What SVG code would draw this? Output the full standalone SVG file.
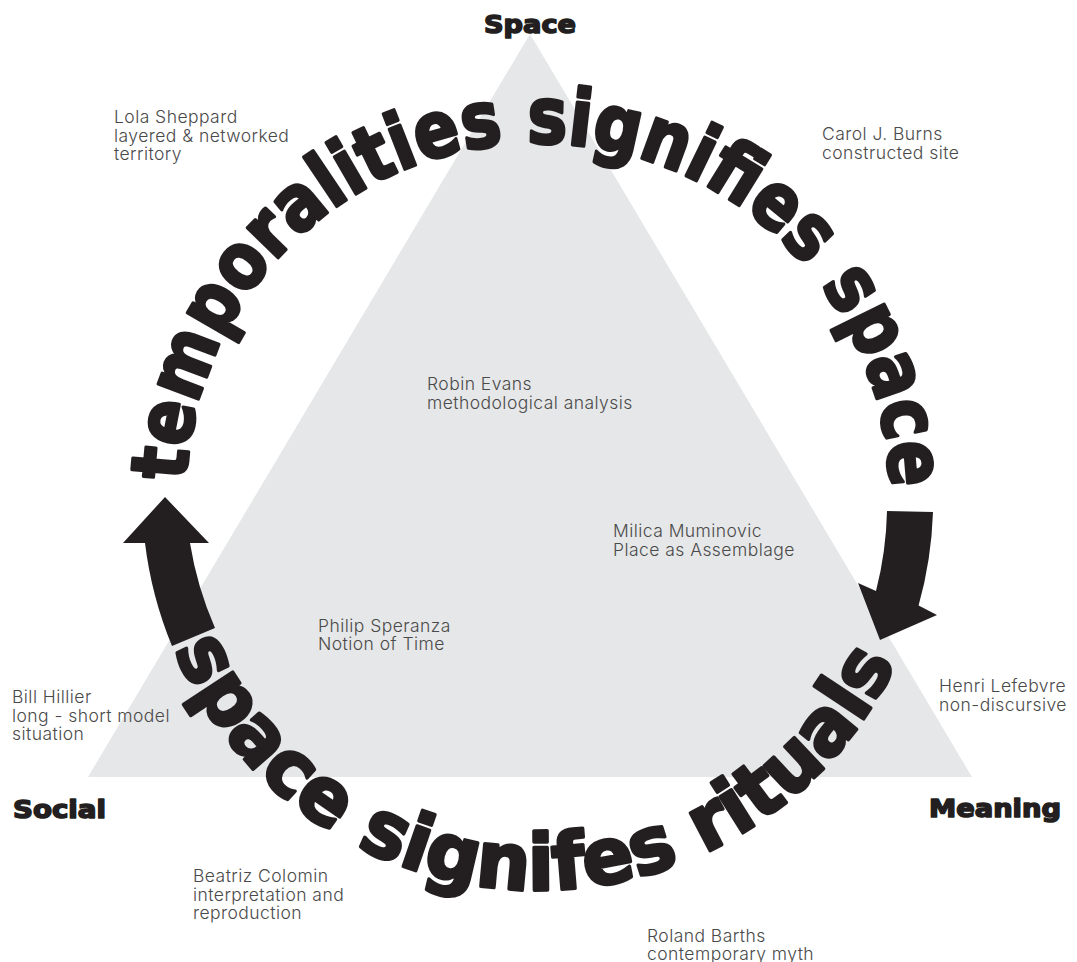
<svg xmlns="http://www.w3.org/2000/svg" xmlns:xlink="http://www.w3.org/1999/xlink" width="1077" height="962" viewBox="0 0 1077 962">
  <style>
    .lbl { font-family: Inter, "Open Sans", "Liberation Sans", sans-serif; font-weight: 300; font-size: 17.5px; letter-spacing: 0.45px; fill: #4a4a4a; }
    .corner { font-family: "DejaVu Sans", "Liberation Sans", sans-serif; font-weight: bold; font-size: 25px; fill: #231f20; stroke: #231f20; stroke-width: 1.6; stroke-linejoin: round; }
    .ring { font-family: "DejaVu Sans", "Liberation Sans", sans-serif; font-weight: bold; font-size: 78px; fill: #231f20; stroke: #231f20; stroke-width: 3.5; stroke-linejoin: round; }
    .arrow { fill: #231f20; stroke: none; }
  </style>
  <defs>
    <path id="arcTop" d="M 186.3 480.9 A 352 352 0 0 1 890 491.9" fill="none"/>
    <path id="arcBottom" d="M 174.4 649.3 A 395 395 0 0 0 897.5 658.8" fill="none"/>
  </defs>
  <rect width="1077" height="962" fill="#ffffff"/>

  <g id="triangle">
    <polygon points="530,34 88,777 972,777" fill="#e6e7e8"/>
  </g>

  <g id="corner-space"><text class="corner" x="530" y="33" text-anchor="middle" textLength="92" lengthAdjust="spacingAndGlyphs">Space</text></g>
  <g id="corner-social"><text class="corner" x="13" y="818" textLength="93" lengthAdjust="spacingAndGlyphs">Social</text></g>
  <g id="corner-meaning"><text class="corner" x="929" y="817" textLength="132" lengthAdjust="spacingAndGlyphs">Meaning</text></g>

  <g id="ring-top">
    <text class="ring"><textPath xlink:href="#arcTop" href="#arcTop" textLength="1084" lengthAdjust="spacingAndGlyphs">temporalities signifies space</textPath></text>
  </g>
  <g id="ring-bottom">
    <text class="ring"><textPath xlink:href="#arcBottom" href="#arcBottom" textLength="909" lengthAdjust="spacingAndGlyphs">space signifes rituals</textPath></text>
  </g>

  <g id="connectors">
    <path id="arrow-right" class="arrow" d="M 887 511 A 350 350 0 0 1 876 591 L 858 583 L 880 640 L 937 615 L 918.6 605.6 A 395 395 0 0 0 933 512 Z"/>
    <path id="arrow-left" class="arrow" d="M 172 646 A 395 395 0 0 1 145 543 L 123 543 L 165 497 L 209 543 L 190 543 A 350 350 0 0 0 215 628 Z"/>
  </g>

  <g id="node-lola"><text class="lbl" x="114" y="123"><tspan x="114">Lola Sheppard</tspan><tspan x="114" dy="18.5">layered &amp; networked</tspan><tspan x="114" dy="18.5">territory</tspan></text></g>
  <g id="node-carol"><text class="lbl" x="822" y="140"><tspan x="822">Carol J. Burns</tspan><tspan x="822" dy="18.5">constructed site</tspan></text></g>
  <g id="node-robin"><text class="lbl" x="427" y="390"><tspan x="427">Robin Evans</tspan><tspan x="427" dy="18.5">methodological analysis</tspan></text></g>
  <g id="node-milica"><text class="lbl" x="613" y="537"><tspan x="613">Milica Muminovic</tspan><tspan x="613" dy="18.5">Place as Assemblage</tspan></text></g>
  <g id="node-philip"><text class="lbl" x="318" y="632"><tspan x="318">Philip Speranza</tspan><tspan x="318" dy="18">Notion of Time</tspan></text></g>
  <g id="node-bill"><text class="lbl" x="12" y="703"><tspan x="12">Bill Hillier</tspan><tspan x="12" dy="18.5">long - short model</tspan><tspan x="12" dy="18.5">situation</tspan></text></g>
  <g id="node-henri"><text class="lbl" x="939" y="692"><tspan x="939">Henri Lefebvre</tspan><tspan x="939" dy="18.5">non-discursive</tspan></text></g>
  <g id="node-beatriz"><text class="lbl" x="193" y="882"><tspan x="193">Beatriz Colomin</tspan><tspan x="193" dy="18.5">interpretation and</tspan><tspan x="193" dy="18.5">reproduction</tspan></text></g>
  <g id="node-roland"><text class="lbl" x="647" y="942"><tspan x="647">Roland Barths</tspan><tspan x="647" dy="17.5">contemporary myth</tspan></text></g>
</svg>
